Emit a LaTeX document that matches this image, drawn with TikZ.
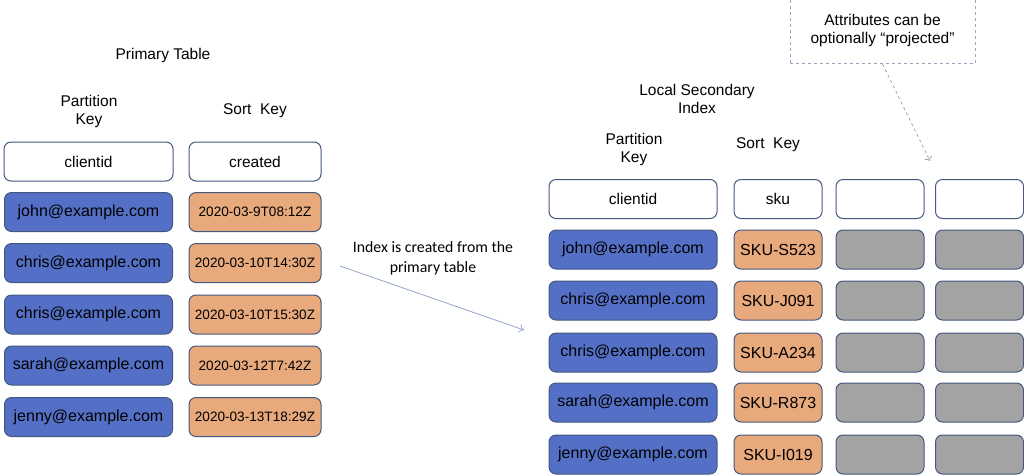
\documentclass[tikz,border=0pt]{standalone}
\usepackage{fontspec}
\setmainfont{Liberation Sans}
\newfontfamily\calibrifont{Carlito}
\usetikzlibrary{arrows.meta}

\definecolor{keyblue}{HTML}{5470C6}
\definecolor{keyorange}{HTML}{E8A97C}
\definecolor{attrgray}{HTML}{A3A3A3}
\definecolor{cellline}{HTML}{44587E}
\definecolor{notegray}{HTML}{9AA6BE}
\definecolor{arrowblue}{HTML}{94A6C8}

\begin{document}
\begin{tikzpicture}[x=1pt, y=-1pt,
        every node/.style={font=\fontsize{15.5}{18}\selectfont, align=center, inner sep=0pt},
        cell/.style={draw=cellline, line width=1pt, rounded corners=7pt, minimum height=39pt},
        head/.style={cell, fill=white},
        pk/.style={cell, fill=keyblue, minimum width=168pt, font=\fontsize{16}{18}\selectfont},
        sk/.style={cell, fill=keyorange, font=\fontsize{16}{18}\selectfont},
        datesk/.style={sk, minimum width=132pt, font=\fontsize{13.6}{16}\selectfont},
        attr/.style={cell, fill=attrgray, minimum width=88pt}]

        \useasboundingbox (0,0) rectangle (1024,475);

        % primary table
        \node (ptitle) at (163,55) {Primary Table};
        \node (ppk) at (89,111) {Partition\\Key};
        \node (psk) at (255,111) {Sort\ \ Key};

        \node[head, minimum width=169pt] (pclient) at (88.5,161.5) {clientid};
        \node[head, minimum width=132pt] (pcreated) at (255,161.5) {created};

        \node[pk] (p1) at (88.5,212) {john@example.com};
        \node[pk] (p2) at (88.5,263) {chris@example.com};
        \node[pk] (p3) at (88.5,314.5) {chris@example.com};
        \node[pk] (p4) at (88.5,365.5) {sarah@example.com};
        \node[pk] (p5) at (88.5,417) {jenny@example.com};

        \node[datesk] (d1) at (255,212) {2020-03-9T08:12Z};
        \node[datesk] (d2) at (255,263) {2020-03-10T14:30Z};
        \node[datesk] (d3) at (255,314.5) {2020-03-10T15:30Z};
        \node[datesk] (d4) at (255,365.5) {2020-03-12T7:42Z};
        \node[datesk] (d5) at (255,417) {2020-03-13T18:29Z};

        % index arrow
        \node[font=\calibrifont\fontsize{15.8}{20}\selectfont] (idxlabel) at (433,258) {Index is created from the\\primary table};
        \coordinate (idxfrom) at (340,266);
        \coordinate (idxto) at (524,330);
        \draw[arrowblue, line width=0.8pt, -{To[length=5pt,width=9pt]}] (idxfrom) -- (idxto);

        % local secondary index
        \node (ltitle) at (697,98.5) {Local Secondary\\Index};
        \node (lpk) at (634,149) {Partition\\Key};
        \node (lsk) at (768,145) {Sort\ \ Key};

        \node[head, minimum width=168pt] (lclient) at (633,199) {clientid};
        \node[head, minimum width=88pt] (lsku) at (778,199) {sku};
        \node[head, minimum width=88pt] (la) at (880,199) {};
        \node[head, minimum width=88pt] (lb) at (979.5,199) {};

        \node[pk] (l1) at (633,249.5) {john@example.com};
        \node[pk] (l2) at (633,300.5) {chris@example.com};
        \node[pk] (l3) at (633,352.5) {chris@example.com};
        \node[pk] (l4) at (633,402.5) {sarah@example.com};
        \node[pk] (l5) at (633,454.5) {jenny@example.com};

        \node[sk, minimum width=88pt] (s1) at (778,249.5) {SKU-S523};
        \node[sk, minimum width=88pt] (s2) at (778,300.5) {SKU-J091};
        \node[sk, minimum width=88pt] (s3) at (778,352.5) {SKU-A234};
        \node[sk, minimum width=88pt] (s4) at (778,402.5) {SKU-R873};
        \node[sk, minimum width=88pt] (s5) at (778,454.5) {SKU-I019};

        \node[attr] (a1) at (880,249.5) {};
        \node[attr] (a2) at (880,300.5) {};
        \node[attr] (a3) at (880,352.5) {};
        \node[attr] (a4) at (880,402.5) {};
        \node[attr] (a5) at (880,454.5) {};

        \node[attr] (b1) at (979.5,249.5) {};
        \node[attr] (b2) at (979.5,300.5) {};
        \node[attr] (b3) at (979.5,352.5) {};
        \node[attr] (b4) at (979.5,402.5) {};
        \node[attr] (b5) at (979.5,454.5) {};

        % projection note
        \node[draw=notegray, dashed, line width=1pt, minimum width=185pt, minimum height=66pt] (proj) at (882.5,30.5) {Attributes can be\\optionally \textquotedblleft projected\textquotedblright};
        \coordinate (projtip) at (930,161);
        \draw[notegray, dashed, line width=0.8pt, -{To[length=4pt,width=8pt]}] (proj.south) -- (projtip);

    \end{tikzpicture}
\end{document}
